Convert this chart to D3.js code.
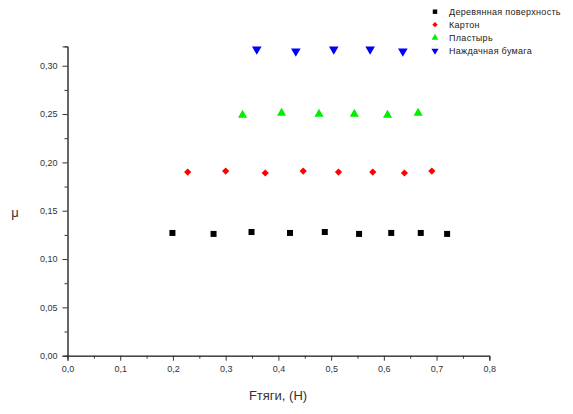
<!DOCTYPE html>
<html><head><meta charset="utf-8">
<script src="https://cdn.jsdelivr.net/npm/d3@7"></script>
<style>body{margin:0;background:#fff}svg{display:block}text{font-family:"Liberation Sans",Arial,sans-serif}</style>
</head><body><svg id="c" width="573" height="414"></svg>
<script>
const seriesNames = ["Деревянная поверхность","Картон","Пластырь","Наждачная бумага"];
const seriesColors = ["#000000","#ff0000","#00ee00","#0000ff"];
const woodX = [0.199,0.277,0.349,0.422,0.488,0.553,0.614,0.670,0.720];
const woodY = [0.127,0.126,0.128,0.127,0.128,0.126,0.127,0.127,0.126];
const cardX = [0.228,0.300,0.375,0.447,0.514,0.579,0.639,0.691];
const cardY = [0.190,0.191,0.189,0.191,0.190,0.190,0.189,0.191];
const plasterX = [0.332,0.406,0.477,0.544,0.607,0.665];
const plasterY = [0.249,0.251,0.250,0.250,0.249,0.251];
const sandX = [0.359,0.433,0.505,0.574,0.636];
const sandY = [0.317,0.315,0.317,0.317,0.315];
const xTicks = [0,0.1,0.2,0.3,0.4,0.5,0.6,0.7,0.8];
const yTicks = [0,0.05,0.10,0.15,0.20,0.25,0.30];
const xLabel = "Fтяги, (Н)";
const yLabel = "μ";

const svg = d3.select("#c");
const x = d3.scaleLinear().domain([0,0.8]).range([67.5,489.3]);
const y = d3.scaleLinear().domain([0,0.32]).range([355.7,46.4]);
const fmt = (d,n)=>d.toFixed(n).replace(".",",");

const xAxis = d3.axisBottom(x).tickValues(xTicks).tickSize(5).tickPadding(5).tickFormat(d=>fmt(d,1));
const xMinor = d3.axisBottom(x).tickValues(d3.range(0.05,0.8,0.1)).tickSize(3).tickFormat("");
const yAxis = d3.axisLeft(y).tickValues(yTicks).tickSize(5).tickPadding(5).tickFormat(d=>fmt(d,2));
const yMinor = d3.axisLeft(y).tickValues(d3.range(0.025,0.32,0.05)).tickSize(3).tickFormat("");

function style(g){
  g.select(".domain").attr("stroke","#333").attr("stroke-width",1);
  g.selectAll(".tick line").attr("stroke","#333");
  g.selectAll("text").attr("fill","#333").style("font-size","9px").style("font-family","'Liberation Sans',Arial,sans-serif");
}
svg.append("g").attr("transform","translate(0,355.7)").call(xMinor).call(style);
svg.append("g").attr("transform","translate(0,355.7)").call(xAxis).call(style);
svg.append("g").attr("transform","translate(67.5,0)").call(yMinor).call(style);
svg.append("g").attr("transform","translate(67.5,0)").call(yAxis).call(style);

svg.append("text").attr("x",278).attr("y",400).attr("text-anchor","middle")
  .attr("fill","#333").style("font-size","13px").text(xLabel);
svg.append("text").attr("x",15).attr("y",217).attr("text-anchor","middle")
  .attr("fill","#333").style("font-size","13px").text(yLabel);

const symbols = [d3.symbolSquare, d3.symbolSquare, d3.symbolTriangle, d3.symbolTriangle];
const sizes = [36, 26, 36, 40];
const rot = [0,45,0,180];
const data = [[woodX,woodY],[cardX,cardY],[plasterX,plasterY],[sandX,sandY]];
data.forEach(([xs,ys],i)=>{
  svg.append("g").selectAll("path").data(xs.map((v,j)=>[v,ys[j]])).join("path")
    .attr("d",d3.symbol().type(symbols[i]).size(sizes[i]))
    .attr("fill",seriesColors[i])
    .attr("transform",d=>`translate(${x(d[0])},${y(d[1])}) rotate(${rot[i]})`);
});

const leg = svg.append("g");
seriesNames.forEach((n,i)=>{
  const cy = 11.7 + i*13;
  leg.append("path").attr("d",d3.symbol().type(symbols[i]).size(sizes[i]*0.55))
    .attr("fill",seriesColors[i]).attr("transform",`translate(435,${cy}) rotate(${rot[i]})`);
  leg.append("text").attr("x",449).attr("y",cy+3).attr("fill","#222")
    .style("font-size","9px").style("letter-spacing","0.3px").text(n);
});
</script></body></html>
